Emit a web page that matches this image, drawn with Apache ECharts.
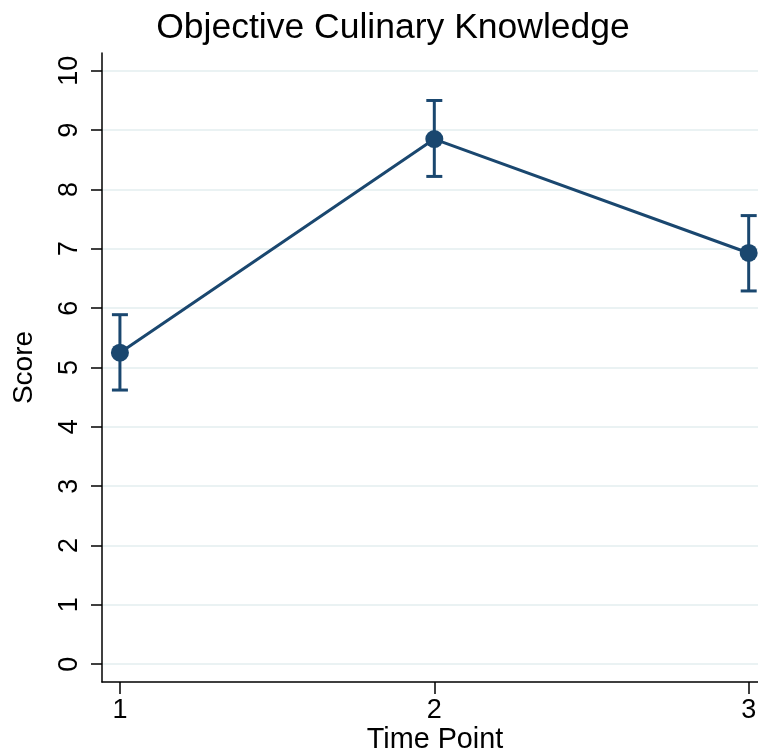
<!DOCTYPE html>
<html>
<head>
<meta charset="utf-8">
<script src="https://cdn.jsdelivr.net/npm/echarts@6/dist/echarts.min.js"></script>
<style>
  html, body { margin: 0; padding: 0; background: #fff; }
  #chart { width: 758px; height: 754px; }
</style>
</head>
<body>
<div id="chart"></div>
<script>
// data
const timePoints = [1, 2, 3];
const means = [5.25, 8.85, 6.93];
const lower = [4.62, 8.22, 6.29];
const upper = [5.89, 9.50, 7.56];
const yTicks = [0, 1, 2, 3, 4, 5, 6, 7, 8, 9, 10];
const xTicks = [1, 2, 3];

const navy = '#1a476f';
const font = '"Liberation Sans", Arial, Helvetica, sans-serif';

const chart = echarts.init(document.getElementById('chart'));

const option = {
  backgroundColor: '#fff',
  animation: false,
  textStyle: { fontFamily: font },
  title: {
    text: 'Objective Culinary Knowledge',
    left: 388,
    top: 5,
    textAlign: 'center',
    textStyle: { fontSize: 35.5, fontWeight: 'normal', color: '#000', fontFamily: font }
  },
  grid: { left: 102, right: 0, top: 53, bottom: 72, containLabel: false, outerBoundsMode: 'none' },
  xAxis: {
    type: 'value',
    min: 0.943,
    max: 3.0296,
    name: 'Time Point',
    nameLocation: 'middle',
    nameGap: 44,
    nameMoveOverlap: false,
    nameTextStyle: { fontSize: 28.8, color: '#000', fontFamily: font, padding: [0, 0, 0, 10] },
    axisLine: { show: true, onZero: false, lineStyle: { color: '#000', width: 1.5 } },
    axisTick: { show: true, length: 12, customValues: xTicks, lineStyle: { color: '#000', width: 1.5 } },
    axisLabel: { customValues: xTicks, margin: 15, fontSize: 27, color: '#000', fontFamily: font },
    splitLine: { show: false }
  },
  yAxis: {
    type: 'value',
    min: -0.3,
    max: 10.3,
    name: 'Score',
    nameLocation: 'middle',
    nameGap: 64,
    nameMoveOverlap: false,
    nameTextStyle: { fontSize: 28, color: '#000', fontFamily: font },
    axisLine: { show: true, onZero: false, lineStyle: { color: '#000', width: 1.5 } },
    axisTick: { show: true, length: 11, customValues: yTicks, lineStyle: { color: '#000', width: 1.5 } },
    axisLabel: { customValues: yTicks, rotate: 90, margin: 19, fontSize: 27, color: '#000', fontFamily: font },
    splitLine: { show: false }
  },
  series: [
    {
      // horizontal grid lines at the y ticks
      type: 'line',
      data: [],
      silent: true,
      z: 0,
      markLine: {
        z: 0,
        silent: true,
        symbol: ['none', 'none'],
        label: { show: false },
        lineStyle: { color: '#eaf2f3', width: 2, type: 'solid' },
        emphasis: { disabled: true },
        data: yTicks.map(v => ({ yAxis: v }))
      }
    },
    {
      type: 'custom',
      z: 3,
      data: timePoints.map((t, i) => [t, lower[i], upper[i]]),
      renderItem: function (params, api) {
        const lo = api.coord([api.value(0), api.value(1)]);
        const hi = api.coord([api.value(0), api.value(2)]);
        const hw = 8;
        const style = { stroke: navy, lineWidth: 3 };
        return {
          type: 'group',
          children: [
            { type: 'line', shape: { x1: lo[0], y1: lo[1], x2: hi[0], y2: hi[1] }, style: style },
            { type: 'line', shape: { x1: hi[0] - hw, y1: hi[1], x2: hi[0] + hw, y2: hi[1] }, style: style },
            { type: 'line', shape: { x1: lo[0] - hw, y1: lo[1], x2: lo[0] + hw, y2: lo[1] }, style: style }
          ]
        };
      }
    },
    {
      type: 'line',
      z: 4,
      clip: false,
      data: timePoints.map((t, i) => [t, means[i]]),
      symbol: 'circle',
      symbolSize: 18,
      itemStyle: { color: navy },
      lineStyle: { color: navy, width: 3 }
    }
  ]
};

chart.setOption(option);
</script>
</body>
</html>
